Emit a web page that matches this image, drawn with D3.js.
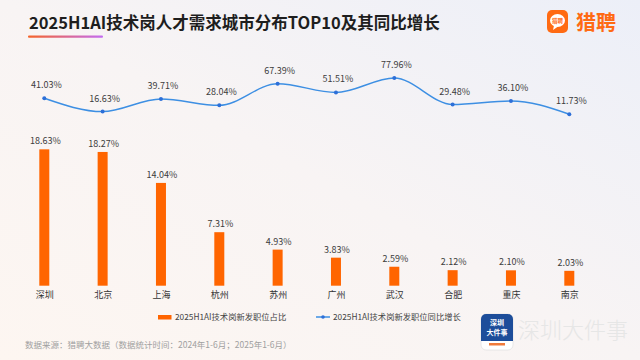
<!DOCTYPE html>
<html>
<head>
<meta charset="utf-8">
<script src="https://cdn.jsdelivr.net/npm/d3@7/dist/d3.min.js"></script>
<style>
  html, body { margin: 0; padding: 0; background: #fff; }
  svg { display: block; font-family: "Noto Sans CJK SC", "Noto Sans", sans-serif; }
</style>
</head>
<body>
<svg id="chart" width="640" height="360"></svg>
<script>
const cities = ["深圳", "北京", "上海", "杭州", "苏州", "广州", "武汉", "合肥", "重庆", "南京"];
const shareValues = [18.63, 18.27, 14.04, 7.31, 4.93, 3.83, 2.59, 2.12, 2.10, 2.03];
const growthValues = [41.03, 16.63, 39.71, 28.04, 67.39, 51.51, 77.96, 29.48, 36.10, 11.73];
const titleText = "2025H1AI技术岗人才需求城市分布TOP10及其同比增长";
const legendLabels = ["2025H1AI技术岗新发职位占比", "2025H1AI技术岗新发职位同比增长"];
const sourceText = "数据来源：猎聘大数据（数据统计时间：2024年1-6月；2025年1-6月）";
const brandText = "猎聘";
const watermarkText = "深圳大件事";

const svg = d3.select("#chart");
const W = 640, H = 360;
const defs = svg.append("defs");

// background gradient
const bg = defs.append("linearGradient").attr("id", "bg")
  .attr("x1", "0").attr("y1", "1").attr("x2", "1").attr("y2", "0");
bg.append("stop").attr("offset", "0").attr("stop-color", "#fdf6f1");
bg.append("stop").attr("offset", "0.5").attr("stop-color", "#f8f4f4");
bg.append("stop").attr("offset", "1").attr("stop-color", "#eceff8");
svg.append("rect").attr("width", W).attr("height", H).attr("fill", "url(#bg)");

const ul = defs.append("linearGradient").attr("id", "ul");
ul.append("stop").attr("offset", "0").attr("stop-color", "#f5642a");
ul.append("stop").attr("offset", "1").attr("stop-color", "#c36cf2");

// title
svg.append("text").attr("x", 29).attr("y", 28.5)
  .attr("font-size", 16.5).attr("font-weight", 700).attr("fill", "#1e1e1e")
  .text(titleText);
svg.append("rect").attr("x", 28).attr("y", 35.5).attr("width", 75).attr("height", 2.2)
  .attr("rx", 1).attr("fill", "url(#ul)");

// brand logo
const logo = svg.append("g").attr("transform", "translate(547,10)");
logo.append("rect").attr("width", 21).attr("height", 23).attr("rx", 5).attr("fill", "#ff6a13");
logo.append("ellipse").attr("cx", 10.5).attr("cy", 10.5).attr("rx", 7.5).attr("ry", 6.5).attr("fill", "#fff");
logo.append("path").attr("d", "M7,15.5 L6,20 L11,16.5 Z").attr("fill", "#fff");
logo.append("text").attr("x", 10.5).attr("y", 12.8).attr("text-anchor", "middle")
  .attr("font-size", 5.5).attr("font-weight", 700).attr("fill", "#ff6a13").text(brandText);
svg.append("text").attr("x", 576).attr("y", 30).attr("font-size", 20).attr("font-weight", 700)
  .attr("fill", "#ff6a13").text(brandText);

// scales
const x = d3.scalePoint().domain(cities).range([44.3, 569.3]);
const yBar = d3.scaleLinear().domain([0, 20]).range([285.7, 139.3]);
const yLine = d3.scaleLinear().domain([0, 100]).range([120.7, 65.9]);

// bars
const barW = 10;
svg.append("g").selectAll("rect").data(shareValues).join("rect")
  .attr("x", (d, i) => x(cities[i]) - barW / 2)
  .attr("y", d => yBar(d))
  .attr("width", barW)
  .attr("height", d => yBar(0) - yBar(d))
  .attr("fill", "#ff6500");
svg.append("g").selectAll("text").data(shareValues).join("text")
  .attr("x", (d, i) => x(cities[i]) + 1)
  .attr("y", d => yBar(d) - 5)
  .attr("text-anchor", "middle").attr("font-size", 9).attr("fill", "#3c3c3c")
  .text(d => d.toFixed(2) + "%");

// x axis labels
const xAxis = d3.axisBottom(x).tickSize(0).tickPadding(6);
const gx = svg.append("g").attr("transform", `translate(0,${yBar(0)})`).call(xAxis);
gx.select(".domain").remove();
gx.selectAll("text").attr("font-size", 9).attr("fill", "#333")
  .attr("font-family", "'Noto Sans CJK SC', sans-serif");

// line
const line = d3.line()
  .x((d, i) => x(cities[i]))
  .y(d => yLine(d))
  .curve(d3.curveMonotoneX);
svg.append("path").datum(growthValues).attr("d", line)
  .attr("fill", "none").attr("stroke", "#3d8fe3").attr("stroke-width", 1.5);
svg.append("g").selectAll("circle").data(growthValues).join("circle")
  .attr("cx", (d, i) => x(cities[i])).attr("cy", d => yLine(d)).attr("r", 2)
  .attr("fill", "#2d6fd8");
svg.append("g").selectAll("text").data(growthValues).join("text")
  .attr("x", (d, i) => x(cities[i]) + 2)
  .attr("y", d => yLine(d) - 10)
  .attr("text-anchor", "middle").attr("font-size", 9).attr("fill", "#3c3c3c")
  .text(d => d.toFixed(2) + "%");

// legend
const lg = svg.append("g");
lg.append("rect").attr("x", 158).attr("y", 315).attr("width", 13.5).attr("height", 4.5).attr("fill", "#ff6500");
lg.append("text").attr("x", 175).attr("y", 320).attr("font-size", 8.3).attr("fill", "#444").text(legendLabels[0]);
lg.append("line").attr("x1", 316).attr("x2", 330).attr("y1", 317).attr("y2", 317)
  .attr("stroke", "#3d8fe3").attr("stroke-width", 1.5);
lg.append("circle").attr("cx", 323).attr("cy", 317).attr("r", 1.8).attr("fill", "#2d6fd8");
lg.append("text").attr("x", 333).attr("y", 320).attr("font-size", 8.3).attr("fill", "#444").text(legendLabels[1]);

// source
svg.append("text").attr("x", 25).attr("y", 348).attr("font-size", 8.5).attr("fill", "#a0a0a0").text(sourceText);

// watermark
const wm = svg.append("g").attr("transform", "translate(481,314)");
wm.append("rect").attr("width", 32).attr("height", 36).attr("rx", 5).attr("fill", "#fff")
  .attr("stroke", "#e2e2e2").attr("stroke-width", 0.8);
wm.append("path").attr("d", "M5,0 H27 A5,5 0 0 1 32,5 V27 H0 V5 A5,5 0 0 1 5,0 Z").attr("fill", "#1d4d9a");
wm.append("text").attr("x", 16).attr("y", 11).attr("text-anchor", "middle").attr("font-size", 7)
  .attr("font-weight", 700).attr("fill", "#fff").text(watermarkText.slice(0, 2));
wm.append("text").attr("x", 16).attr("y", 21).attr("text-anchor", "middle").attr("font-size", 7)
  .attr("font-weight", 700).attr("fill", "#fff").text(watermarkText.slice(2));
wm.append("rect").attr("x", 8).attr("y", 29).attr("width", 16).attr("height", 2.5).attr("fill", "#f07a3a");
svg.append("text").attr("x", 518).attr("y", 338).attr("font-size", 22).attr("font-weight", 300)
  .attr("fill", "#e6e6e6").text(watermarkText);
</script>
</body>
</html>
